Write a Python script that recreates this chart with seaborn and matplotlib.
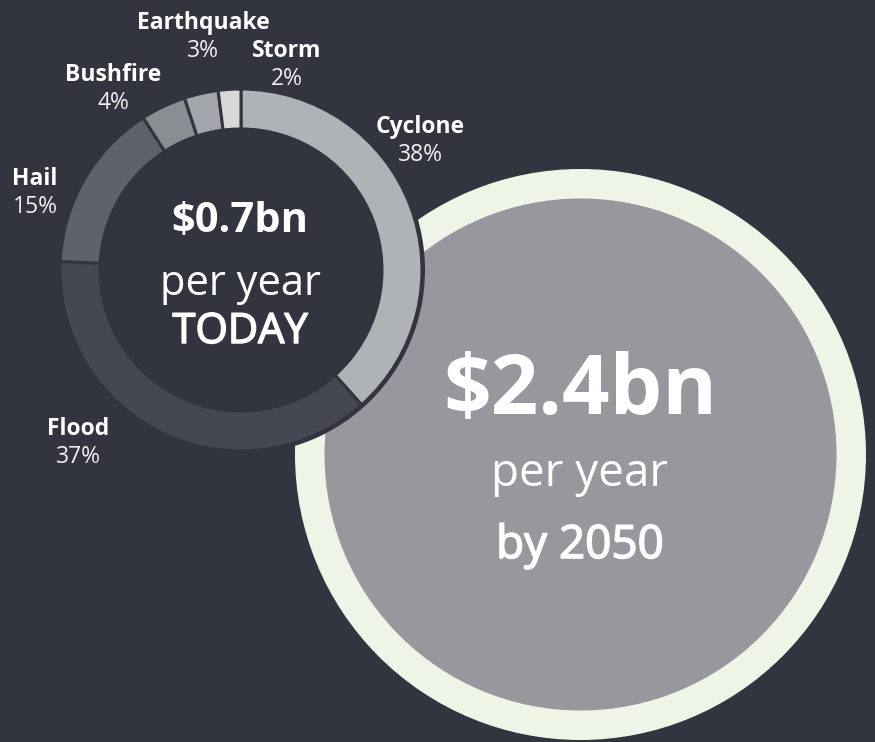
import matplotlib
matplotlib.use('Agg')
import matplotlib.pyplot as plt
import matplotlib.patheffects as pe
from matplotlib.patches import Circle
import seaborn as sns

# data
hazards = ['Cyclone', 'Flood', 'Hail', 'Bushfire', 'Earthquake', 'Storm']
shares = [38, 37, 15, 4, 3, 2]
today_value = '$0.7bn'
future_value = '$2.4bn'

# styling
BG = '#32353f'
slice_colors = ['#b0b3b5', '#454852', '#5f626b', '#8a8d91', '#a2a5a9', '#d8d9d7']
RING_LIGHT = '#eef4e6'
BIG_FILL = '#96989d'

# label anchor points (pixels, baseline of name line)
label_pos = [(420, 133), (78, 435), (35, 185), (113, 81), (203, 29), (287, 57)]

sns.set_theme(style='dark', rc={'figure.facecolor': BG, 'axes.facecolor': BG})
plt.rcParams['font.family'] = ['Open Sans', 'DejaVu Sans']

# fake semibold: regular weight with a thin outline
semi = [pe.withStroke(linewidth=1.1, foreground='white')]

fig = plt.figure(figsize=(8.75, 7.42), dpi=100)
ax = fig.add_axes([0, 0, 1, 1])

# big 2050 circle
big_c = (580.5, 454.5)
ax.add_patch(Circle(big_c, 285.5, facecolor=RING_LIGHT, edgecolor='none', zorder=1))
ax.add_patch(Circle(big_c, 256, facecolor=BIG_FILL, edgecolor='none', zorder=2))

# donut for today
don_c = (241, 270)
ax.add_patch(Circle(don_c, 184, facecolor=BG, edgecolor='none', zorder=3))
wedges, _ = ax.pie(shares, colors=slice_colors, center=don_c, radius=181,
                   startangle=-90, counterclock=True, frame=True,
                   wedgeprops=dict(width=40, edgecolor=BG, linewidth=2.2))
for w in wedges:
    w.set_zorder(4)
ax.set_xlim(0, 875)
ax.set_ylim(742, 0)
ax.set_aspect('equal')
ax.axis('off')

for name, pct, (x, y) in zip(hazards, shares, label_pos):
    ax.text(x, y, name, ha='center', va='baseline', fontsize=16.5,
            fontweight='bold', color='white', zorder=6)
    ax.text(x, y + 28, f'{pct}%', ha='center', va='baseline', fontsize=16.5,
            color='#f0f0f0', zorder=6)

# center texts
ax.text(240, 232, today_value, ha='center', va='baseline', fontsize=30,
        fontweight='bold', color='white', zorder=6)
ax.text(240, 295, 'per year', ha='center', va='baseline', fontsize=30,
        color='white', zorder=6)
ax.text(240, 343, 'TODAY', ha='center', va='baseline', fontsize=30,
        color='white', path_effects=semi, zorder=6)

ax.text(580, 414, future_value, ha='center', va='baseline', fontsize=60,
        fontweight='bold', color='white', zorder=6)
ax.text(580, 486, 'per year', ha='center', va='baseline', fontsize=33,
        color='white', zorder=6)
ax.text(580, 558, 'by 2050', ha='center', va='baseline', fontsize=33,
        color='white', path_effects=semi, zorder=6)

fig.savefig('out.png', dpi=100, facecolor=BG)
